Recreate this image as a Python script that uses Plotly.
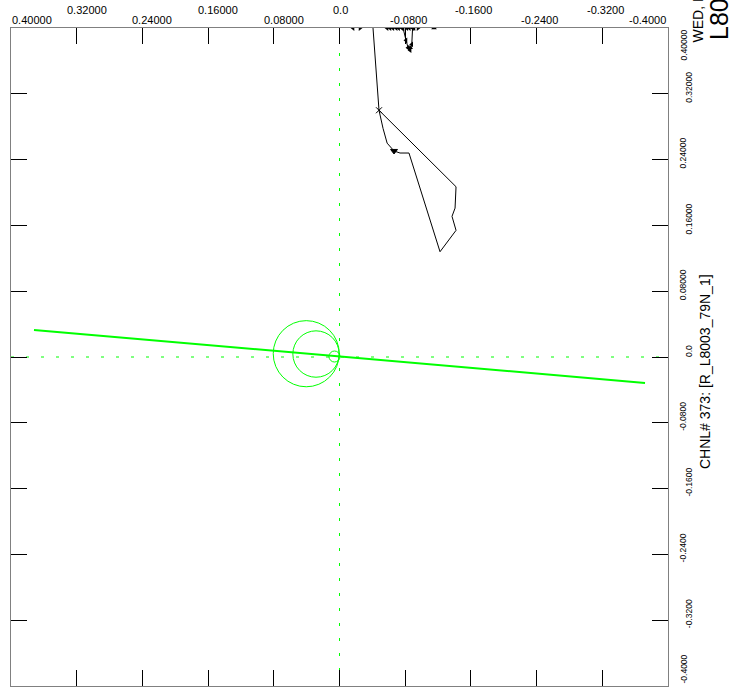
import plotly.graph_objects as go

# ---------------- data ----------------
tick_values = [0.4, 0.32, 0.24, 0.16, 0.08, 0.0, -0.08, -0.16, -0.24, -0.32, -0.4]
top_tick_labels = ["0.40000", "0.32000", "0.24000", "0.16000", "0.08000", "0.0",
                   "-0.0800", "-0.1600", "-0.2400", "-0.3200", "-0.4000"]
right_tick_labels = ["0.40000", "0.32000", "0.24000", "0.16000", "0.08000", "0.0",
                     "-0.0800", "-0.1600", "-0.2400", "-0.3200", "-0.4000"]

# black response curve (real, imag)
curve_x = [-0.0408, -0.0481, -0.0530, -0.0580, -0.0664, -0.0737, -0.0846,
           -0.1224, -0.1419, -0.1370, -0.1407, -0.1419, -0.0481]
curve_y = [0.400, 0.300, 0.278, 0.260, 0.2505, 0.248, 0.248,
           0.128, 0.154, 0.171, 0.181, 0.207, 0.300]
curve_marker_x = [-0.0481, -0.0664]
curve_marker_y = [0.300, 0.2505]
curve_marker_sym = ["x-thin", "triangle-down"]

# cluster of points pinned at the upper border
cluster_x = [-0.0579, -0.0615, -0.0650, -0.0690, -0.0720, -0.0760, -0.0774,
             -0.0810, -0.0835, -0.0860, -0.0880, -0.0890, -0.0850, -0.0820]
cluster_y = [0.400, 0.400, 0.400, 0.400, 0.400, 0.400, 0.400,
             0.385, 0.376, 0.373, 0.380, 0.400, 0.400, 0.400]
edge_marker_x = [-0.0165, -0.0250, -0.0907, -0.0956, -0.1151, -0.0860]
edge_marker_y = [0.400, 0.400, 0.400, 0.400, 0.400, 0.376]
edge_marker_sym = ["triangle-left", "triangle-right", "triangle-left",
                   "triangle-right", "triangle-up", "triangle-up"]

# green reference line
ref_line_x = [0.372, -0.372]
ref_line_y = [0.0328, -0.0316]

# green circles: centre x, centre y, radius
circle_cx = [0.0405, 0.0286, 0.0061]
circle_cy = [0.0040, 0.0036, 0.0006]
circle_r = [0.0402, 0.0282, 0.0067]

channel_title = "CHNL# 373: [R_L8003_79N_1]"
date_title = "WED, DEC 12 2001"
run_title = "L8003"

# ---------------- figure ----------------
GREEN = "#00ff00"
FONT = "Arial, Liberation Sans, sans-serif"

fig = go.Figure()

fig.add_trace(go.Scatter(x=ref_line_x, y=ref_line_y, mode="lines",
                         line=dict(color=GREEN, width=2), hoverinfo="skip"))
fig.add_trace(go.Scatter(x=curve_x, y=curve_y, mode="lines",
                         line=dict(color="black", width=1), hoverinfo="skip"))
fig.add_trace(go.Scatter(x=curve_marker_x, y=curve_marker_y, mode="markers",
                         marker=dict(symbol=curve_marker_sym, size=6, color="black",
                                     line=dict(color="black", width=1)),
                         hoverinfo="skip"))
fig.add_trace(go.Scatter(x=cluster_x, y=cluster_y, mode="lines+markers",
                         line=dict(color="black", width=1),
                         marker=dict(symbol="triangle-left", size=5, color="black"),
                         hoverinfo="skip"))
fig.add_trace(go.Scatter(x=edge_marker_x, y=edge_marker_y, mode="markers",
                         marker=dict(symbol=edge_marker_sym, size=5, color="black"),
                         hoverinfo="skip"))

for cx, cy, r in zip(circle_cx, circle_cy, circle_r):
    fig.add_shape(type="circle", xref="x", yref="y",
                  x0=cx - r, x1=cx + r, y0=cy - r, y1=cy + r,
                  line=dict(color=GREEN, width=1), layer="above")

fig.add_hline(y=0, line=dict(color=GREEN, width=1, dash="3px,12px"), layer="below")
fig.add_vline(x=0, line=dict(color=GREEN, width=1, dash="3px,12px"), layer="below")

axis_common = dict(showgrid=False, zeroline=False, showticklabels=False,
                   ticks="inside", ticklen=16, tickwidth=1, tickcolor="black",
                   showline=True, linecolor="#808080", linewidth=1,
                   mirror="ticks", tickvals=tick_values)
fig.update_xaxes(range=[0.4, -0.4], **axis_common)
fig.update_yaxes(range=[-0.4, 0.4], **axis_common)

annotations = []
n = len(tick_values)
for i, (v, lab) in enumerate(zip(tick_values, top_tick_labels)):
    near = (i % 2 == 0)
    if i == 0:
        xanchor, xshift = "left", -1
    elif i == n - 1:
        xanchor, xshift = "right", 0
    elif v > 0:
        xanchor, xshift = "center", 10
    elif v == 0:
        xanchor, xshift = "center", 1
    else:
        xanchor, xshift = "center", 3
    annotations.append(dict(x=v, xref="x", y=1, yref="paper", text=lab,
                            showarrow=False, xanchor=xanchor, yanchor="middle",
                            xshift=xshift, yshift=8 if near else 18,
                            font=dict(family=FONT, size=11, color="black")))

for i, (v, lab) in enumerate(zip(tick_values, right_tick_labels)):
    near = (i % 2 == 0)
    if i == 0:
        yanchor, yshift = "top", 0
    elif i == n - 1:
        yanchor, yshift = "bottom", 0
    else:
        yanchor, yshift = "middle", 6
    annotations.append(dict(x=1, xref="paper", y=v, yref="y", text=lab,
                            showarrow=False, textangle=-90, xanchor="center",
                            yanchor=yanchor, xshift=15 if near else 21, yshift=yshift,
                            font=dict(family=FONT, size=8.5, color="black")))

annotations.append(dict(x=1, xref="paper", y=0.5, yref="paper", text=channel_title,
                        showarrow=False, textangle=-90, xanchor="center", yanchor="middle",
                        xshift=37, yshift=-15,
                        font=dict(family=FONT, size=14, color="black")))
annotations.append(dict(x=1, xref="paper", y=1, yref="paper", text=date_title,
                        showarrow=False, textangle=-90, xanchor="center", yanchor="bottom",
                        xshift=29, yshift=-17,
                        font=dict(family=FONT, size=14, color="black")))
annotations.append(dict(x=1, xref="paper", y=1, yref="paper", text=run_title,
                        showarrow=False, textangle=-90, xanchor="center", yanchor="bottom",
                        xshift=51, yshift=-14,
                        font=dict(family=FONT, size=25, color="black")))

fig.update_layout(width=730, height=691, showlegend=False,
                  margin=dict(l=11, r=62, t=28, b=5),
                  paper_bgcolor="white", plot_bgcolor="white",
                  annotations=annotations)

# remove the default page margin so the figure fills the window exactly
fig.write_html("out.html",
               config={"displayModeBar": False},
               post_script="document.body.style.margin='0';document.body.style.overflow='hidden';")
